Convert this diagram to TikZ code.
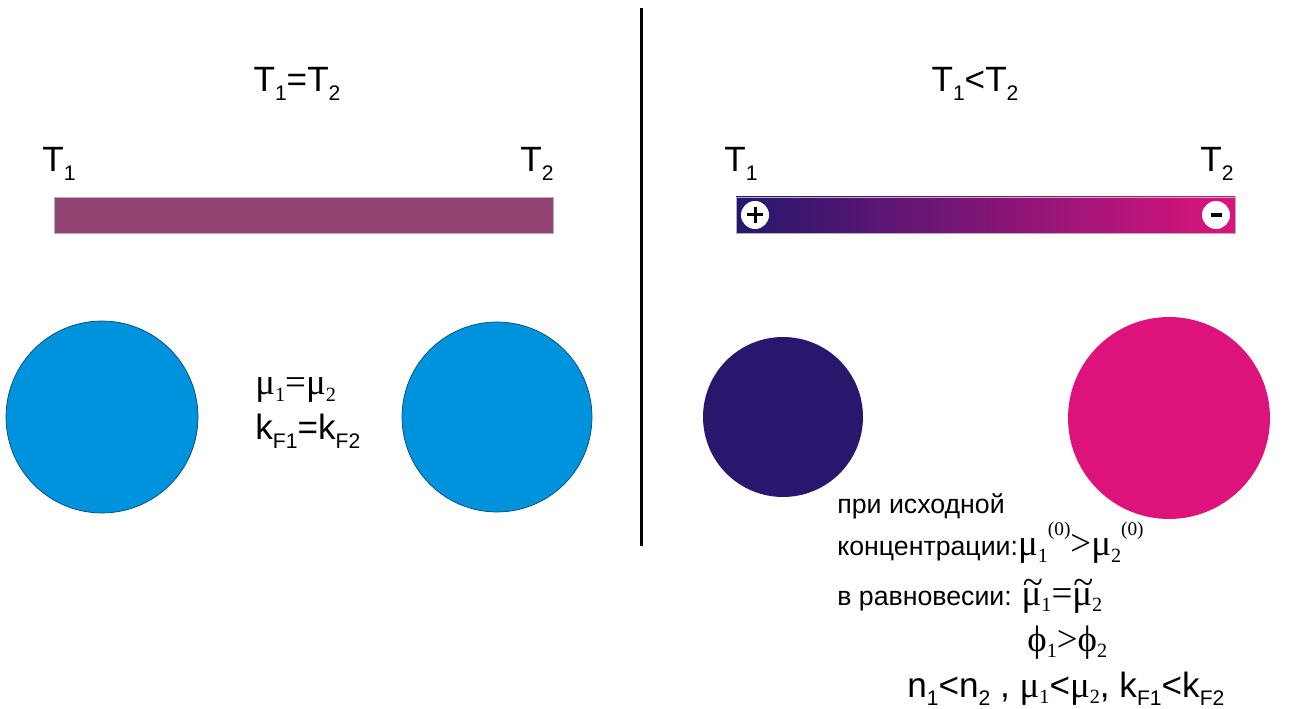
\documentclass[tikz,border=0pt]{standalone}
\usepackage{fontspec}
\setmainfont{Liberation Sans}
\newfontfamily\grk{Liberation Serif}
\usetikzlibrary{positioning}

\definecolor{rodflat}{RGB}{148,68,115}
\definecolor{rodcold}{RGB}{37,23,110}
\definecolor{rodhot}{RGB}{220,20,125}
\definecolor{ballblue}{RGB}{0,147,221}
\definecolor{ballcold}{RGB}{41,23,110}
\definecolor{ballhot}{RGB}{221,19,123}

% lowered index, raised index, mu with a tilde
\newcommand{\lo}[1]{\raisebox{-0.45ex}{\fontsize{12}{12}\selectfont #1}}
\newcommand{\glo}[1]{\raisebox{-0.4ex}{\fontsize{11.5}{12}\selectfont #1}}
\newcommand{\hi}[1]{\raisebox{1.2ex}{\fontsize{11}{11}\selectfont #1}}
\newcommand{\tmu}{\makebox[0pt][l]{\raisebox{0.62ex}{\kern0.03em\symbol{"7E}}}μ}

\begin{document}
\begin{tikzpicture}[x=0.02cm,y=-0.02cm,
    big/.style={inner sep=0pt,anchor=base west,font=\fontsize{20}{24}\selectfont},
    small/.style={inner sep=0pt,anchor=base west,font=\fontsize{15.2}{18}\selectfont},
    greek/.style={font=\fontsize{21}{24}\grk},
    ball/.style={circle,inner sep=0pt},
    sign/.style={circle,fill=white,inner sep=0pt,minimum size=0.56cm}]
  \useasboundingbox (0,0) rectangle (1292,709);

  % divider
  \draw[line width=0.06cm] (641,8) -- (641,546);

  % left half: equal temperatures
  \node[big,anchor=base] (eqtitle) at (297,92) {T\lo{1}=T\lo{2}};
  \node[big] (lT1) at (42,172) {T\lo{1}};
  \node[big] (lT2) at (520,172) {T\lo{2}};
  \draw[black!30, fill=rodflat] (54,197) rectangle (553,233);
  \node[ball,fill=ballblue,draw=ballblue!50!black,minimum size=3.84cm] (lball) at (102,417) {};
  \node[ball,fill=ballblue,draw=ballblue!50!black,minimum size=3.80cm] (rball) at (497,417) {};
  \node[big,greek] (eqmu) at (255,395) {μ\glo{1}=μ\glo{2}};
  \node[big] (eqkf) at (255,440) {k\lo{F1}=k\lo{F2}};

  % right half: T1 < T2
  \node[big,anchor=base] (neqtitle) at (975,92) {T\lo{1}<T\lo{2}};
  \node[big] (rT1) at (724,172) {T\lo{1}};
  \node[big] (rT2) at (1200,172) {T\lo{2}};
  \shade[left color=rodcold, right color=rodhot] (736,197) rectangle (1235,233);
  \draw[black!30] (736,197) rectangle (1235,233);
  \node[sign] (plus) at (755,215) {};
  \draw[line width=0.06cm] ([xshift=-0.16cm]plus.center) -- ([xshift=0.16cm]plus.center);
  \draw[line width=0.06cm] ([yshift=-0.16cm]plus.center) -- ([yshift=0.16cm]plus.center);
  \node[sign] (minus) at (1216,215) {};
  \draw[line width=0.07cm] ([xshift=-0.11cm]minus.center) -- ([xshift=0.11cm]minus.center);
  \node[ball,fill=ballcold,minimum size=3.2cm] (coldball) at (783,417) {};
  \node[ball,fill=ballhot,minimum size=4.04cm] (hotball) at (1169,418) {};

  \node[small] (start1) at (837,514) {при исходной};
  \node[small] (start2) at (837,556) {концентрации:{\fontsize{21}{24}\grk μ\glo{1}\hi{(0)}>μ\glo{2}\hi{(0)}}};
  \node[small] (equil) at (837,605) {в равновесии: {\fontsize{21}{24}\grk \tmu\glo{1}=\tmu\glo{2}}};
  \node[big,greek] (phis) at (1027,651) {ϕ\glo{1}>ϕ\glo{2}};
  \node[big] (final) at (907,697) {n\lo{1}<n\lo{2} , {\fontsize{21}{24}\grk μ\glo{1}}<{\fontsize{21}{24}\grk μ\glo{2}}, k\lo{F1}<k\lo{F2}};
\end{tikzpicture}
\end{document}
